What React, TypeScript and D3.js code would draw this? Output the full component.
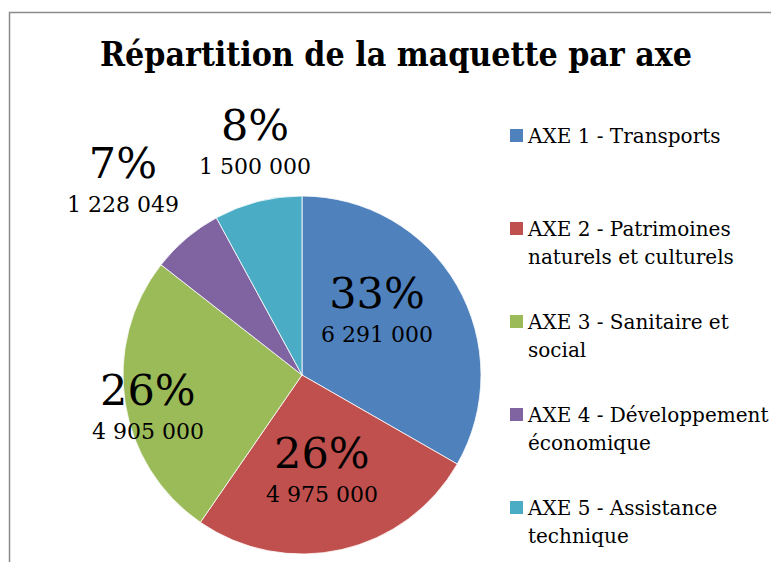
import React from "react";
import * as d3 from "d3";

const categories = [
  "AXE 1 - Transports",
  "AXE 2 - Patrimoines naturels et culturels",
  "AXE 3 - Sanitaire et social",
  "AXE 4 - Développement économique",
  "AXE 5 - Assistance technique",
];
const legendLines = [
  ["AXE 1 - Transports"],
  ["AXE 2 - Patrimoines", "naturels et culturels"],
  ["AXE 3 - Sanitaire et", "social"],
  ["AXE 4 - Développement", "économique"],
  ["AXE 5 - Assistance", "technique"],
];
const values = [6291000, 4975000, 4905000, 1228049, 1500000];
// percentage labels as printed on the chart
const percentLabels = ["33%", "26%", "26%", "7%", "8%"];
const colors = ["#4F81BD", "#C0504D", "#9BBB59", "#8064A2", "#4BACC6"];
// label placement relative to slice mid-angle: [radius factor, angle shift in degrees]
const labelPlacement: [number, number][] = [
  [0.562, -11.7],
  [0.531, 0.7],
  [0.877, -2.3],
  [1.487, -2.0],
  [1.339, 3.0],
];

const W = 771;
const H = 562;
const cx = 302;
const cy = 375;
const R = 179;

const locale = d3.formatLocale({
  decimal: ",",
  thousands: " ",
  grouping: [3],
  currency: ["", " €"],
});
const fmt = locale.format(",d");

export default function App() {
  const pie = d3.pie<number>().sort(null).value((d) => d);
  const arcs = pie(values);
  const arcGen = d3.arc<d3.PieArcDatum<number>>().innerRadius(0).outerRadius(R);
  const serif = "'DejaVu Serif', 'Liberation Serif', serif";

  return (
    <svg
      width={W}
      height={H}
      style={{ position: "absolute", left: 0, top: 0, background: "#fff" }}
    >
      <rect x={0} y={0} width={W} height={H} fill="#fff" />
      <rect
        x={9.5}
        y={12.5}
        width={W + 20}
        height={H + 20}
        fill="none"
        stroke="#8a8a8a"
        strokeWidth={1.5}
      />
      <text
        x={396}
        y={66}
        textAnchor="middle"
        fontFamily="'DejaVu Serif Condensed', 'DejaVu Serif', serif"
        fontWeight="bold"
        fontSize={33}
        textLength={592}
        lengthAdjust="spacingAndGlyphs"
        fill="#000"
      >
        Répartition de la maquette par axe
      </text>
      <g transform={`translate(${cx},${cy})`}>
        {arcs.map((a, i) => (
          <path
            key={i}
            d={arcGen(a) || ""}
            fill={colors[i]}
            stroke="#fff"
            strokeWidth={0.8}
          />
        ))}
        {arcs.map((a, i) => {
          const [rf, shift] = labelPlacement[i];
          const mid = (a.startAngle + a.endAngle) / 2 + (shift * Math.PI) / 180;
          const [x, y] = d3.pointRadial(mid, R * rf);
          return (
            <g key={"l" + i} fontFamily={serif} fill="#000" textAnchor="middle">
              <text x={x} y={y} fontSize={43}>
                {percentLabels[i]}
              </text>
              <text x={x} y={y + 34} fontSize={22}>
                {fmt(values[i])}
              </text>
            </g>
          );
        })}
      </g>
      <g fontFamily={serif} fontSize={20} fill="#000">
        {categories.map((c, i) => {
          const by = 143 + i * 93;
          return (
            <g key={c}>
              <rect x={510} y={by - 14} width={13} height={13} fill={colors[i]} />
              {legendLines[i].map((line, j) => (
                <text key={j} x={528} y={by + j * 28}>
                  {line}
                </text>
              ))}
            </g>
          );
        })}
      </g>
    </svg>
  );
}
